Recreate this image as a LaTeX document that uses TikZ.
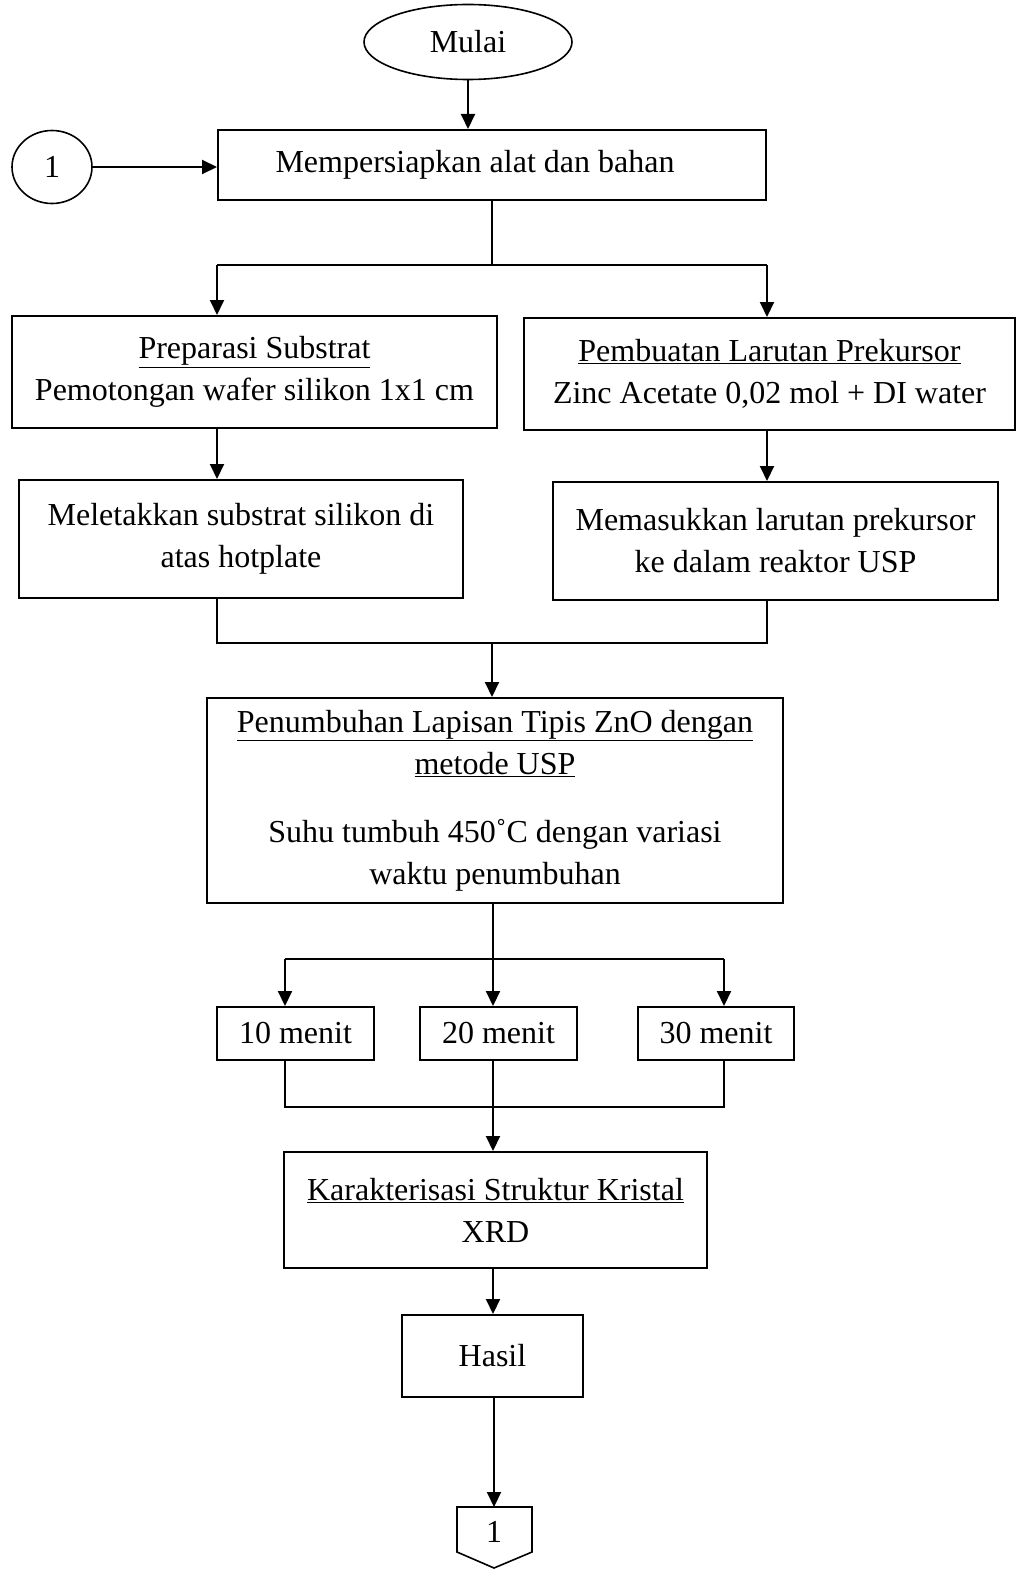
\documentclass[tikz,border=0pt]{standalone}
\usepackage{fontspec}
\setmainfont{Liberation Serif}
\usetikzlibrary{arrows.meta,shapes.geometric}
\begin{document}
\begin{tikzpicture}[x=1pt,y=-1pt,
  txt/.style={font=\fontsize{32}{42}\selectfont,align=center},
  box/.style={txt,draw,line width=2pt,rectangle,inner sep=0pt},
  oval/.style={txt,draw,line width=1.6pt,ellipse,inner sep=0pt},
  conn/.style={line width=2pt},
  arr/.style={conn,-{Triangle[length=15pt,width=14pt]}}]
\useasboundingbox (0,0) rectangle (1016,1570);
% nodes
\node[oval,minimum width=208pt,minimum height=75pt] (mulai) at (468,42) {Mulai};
\node[oval,minimum width=80pt,minimum height=73pt] (c1) at (52,167) {1};
\node[box,minimum width=548pt,minimum height=70pt] (prep) at (492,165) {\hspace*{-34pt}Mempersiapkan alat dan bahan};
\node[box,minimum width=485pt,minimum height=112pt] (subs) at (254.5,372) {\underline{Preparasi Substrat}\\ Pemotongan wafer silikon 1x1 cm};
\node[box,minimum width=491pt,minimum height=112pt] (prek) at (769.5,374) {\underline{Pembuatan Larutan Prekursor}\\ Zinc Acetate 0,02 mol + DI water};
\node[box,minimum width=444pt,minimum height=118pt] (hot) at (241,539) {Meletakkan substrat silikon di\\ atas hotplate};
\node[box,minimum width=445pt,minimum height=118pt] (usp) at (775.5,541) {Memasukkan larutan prekursor\\ ke dalam reaktor USP};
\node[box,minimum width=576pt,minimum height=205pt] (grow) at (495,800.5) {\underline{Penumbuhan Lapisan Tipis ZnO dengan}\\ \underline{metode USP}\\[26pt] Suhu tumbuh 450˚C dengan variasi\\ waktu penumbuhan};
\node[box,minimum width=157pt,minimum height=53pt] (m10) at (295.5,1033.5) {10 menit};
\node[box,minimum width=157pt,minimum height=53pt] (m20) at (498.5,1033.5) {20 menit};
\node[box,minimum width=156pt,minimum height=53pt] (m30) at (716,1033.5) {30 menit};
\node[box,minimum width=423pt,minimum height=116pt] (karak) at (495.5,1210) {\underline{Karakterisasi Struktur Kristal}\\ XRD};
\node[box,minimum width=181pt,minimum height=82pt] (hasil) at (492.5,1356) {Hasil};
\node[txt] (off) at (494,1532) {1};
\draw[line width=1.6pt] (457,1507) -- (532,1507) -- (532,1552) -- (494,1568) -- (457,1552) -- cycle;
\coordinate (offtop) at (494,1507);
% junction coordinates
\coordinate (s1) at (492,265);
\coordinate (sl) at (217,265);
\coordinate (sr) at (767,265);
\coordinate (ml) at (217,643);
\coordinate (mr) at (767,643);
\coordinate (mc) at (492,643);
\coordinate (gc) at (493,959);
\coordinate (gl) at (285,959);
\coordinate (gr) at (724,959);
\coordinate (bc) at (493,1107);
\coordinate (bl) at (285,1107);
\coordinate (br) at (724,1107);
% connectors
\draw[arr] (mulai.south) -- (mulai.south |- prep.north);
\draw[arr] (c1.east) -- (c1.east -| prep.west);
\draw[conn] (s1 |- prep.south) -- (s1);
\draw[conn] (sl) -- (sr);
\draw[arr] (sl) -- (sl |- subs.north);
\draw[arr] (sr) -- (sr |- prek.north);
\draw[arr] (sl |- subs.south) -- (sl |- hot.north);
\draw[arr] (sr |- prek.south) -- (sr |- usp.north);
\draw[conn] (ml |- hot.south) -- (ml) -- (mr) -- (mr |- usp.south);
\draw[arr] (mc) -- (mc |- grow.north);
\draw[conn] (gc |- grow.south) -- (gc);
\draw[conn] (gl) -- (gr);
\draw[arr] (gl) -- (gl |- m10.north);
\draw[arr] (gc) -- (gc |- m20.north);
\draw[arr] (gr) -- (gr |- m30.north);
\draw[conn] (gl |- m10.south) -- (bl) -- (br) -- (gr |- m30.south);
\draw[conn] (gc |- m20.south) -- (bc);
\draw[arr] (bc) -- (bc |- karak.north);
\draw[arr] (bc |- karak.south) -- (bc |- hasil.north);
\draw[arr] (offtop |- hasil.south) -- (offtop);
\end{tikzpicture}
\end{document}
